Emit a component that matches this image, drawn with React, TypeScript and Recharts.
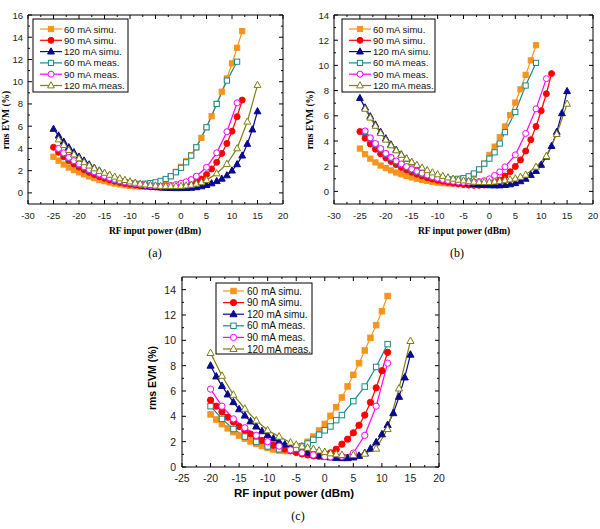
import React from 'react';
import { LineChart, Line, XAxis, YAxis } from 'recharts';

type P = [number, number];

// ---- panel (a) ----
const a60Sim: P[] = [[-25,3.25],[-24,2.9],[-23,2.55],[-22,2.28],[-21,2.05],[-20,1.85],[-19,1.66],[-18,1.48],[-17,1.32],[-16,1.18],[-15,1.05],[-14,0.94],[-13,0.84],[-12,0.76],[-11,0.69],[-10,0.63],[-9,0.59],[-8,0.57],[-7,0.57],[-6,0.6],[-5,0.68],[-4,0.85],[-3,1.15],[-2,1.5],[-1,1.9],[0,2.35],[1,2.85],[2,3.4],[3,4.1],[4,4.95],[5,5.9],[6,6.9],[7,8.0],[8,9.1],[9,10.3],[10,11.65],[11,13.05],[12,14.55]];
const a90Sim: P[] = [[-25,4.1],[-24,3.65],[-23,3.25],[-22,2.9],[-21,2.6],[-20,2.32],[-19,2.08],[-18,1.85],[-17,1.65],[-16,1.47],[-15,1.31],[-14,1.17],[-13,1.05],[-12,0.94],[-11,0.85],[-10,0.77],[-9,0.7],[-8,0.64],[-7,0.59],[-6,0.55],[-5,0.52],[-4,0.5],[-3,0.5],[-2,0.51],[-1,0.54],[0,0.59],[1,0.67],[2,0.8],[3,0.98],[4,1.25],[5,1.65],[6,2.15],[7,2.75],[8,3.55],[9,4.45],[10,5.55],[11,6.85],[12,8.35]];
const a120Sim: P[] = [[-25,5.75],[-24,5.15],[-23,4.6],[-22,4.1],[-21,3.65],[-20,3.25],[-19,2.9],[-18,2.55],[-17,2.25],[-16,2.0],[-15,1.75],[-14,1.55],[-13,1.35],[-12,1.2],[-11,1.05],[-10,0.92],[-9,0.82],[-8,0.72],[-7,0.64],[-6,0.57],[-5,0.52],[-4,0.48],[-3,0.45],[-2,0.43],[-1,0.42],[0,0.42],[1,0.43],[2,0.45],[3,0.5],[4,0.58],[5,0.7],[6,0.85],[7,1.05],[8,1.27],[9,1.57],[10,2.0],[11,2.57],[12,3.35],[13,4.4],[14,5.7],[15,7.33]];
const a60Meas: P[] = [[-24,3.95],[-23,3.55],[-22,3.15],[-21,2.85],[-20,2.55],[-19,2.3],[-18,2.05],[-17,1.85],[-16,1.65],[-15,1.48],[-14,1.32],[-13,1.18],[-12,1.06],[-11,0.96],[-10,0.88],[-9,0.82],[-8,0.8],[-7,0.82],[-6,0.88],[-5,0.95],[-4,1.08],[-3,1.25],[-2,1.5],[-1,1.85],[0,2.25],[1,2.75],[2,3.35],[3,4.1],[5,5.9],[7,8.0],[9,10.1],[11,11.8]];
const a90Meas: P[] = [[-24,4.0],[-23,3.6],[-22,3.2],[-21,2.9],[-20,2.6],[-19,2.35],[-18,2.1],[-17,1.9],[-16,1.7],[-15,1.52],[-14,1.36],[-13,1.22],[-12,1.1],[-11,0.99],[-10,0.9],[-9,0.82],[-8,0.75],[-7,0.69],[-6,0.65],[-5,0.62],[-4,0.6],[-3,0.62],[-2,0.67],[-1,0.75],[0,0.87],[1,1.0],[2,1.2],[3,1.5],[5,2.3],[7,3.6],[9,5.5],[11,8.1]];
const a120Meas: P[] = [[-24,4.8],[-23,4.3],[-22,3.85],[-21,3.45],[-20,3.1],[-19,2.75],[-18,2.45],[-17,2.2],[-16,1.97],[-15,1.8],[-14,1.62],[-13,1.45],[-12,1.3],[-11,1.15],[-10,1.02],[-9,0.9],[-8,0.82],[-7,0.75],[-6,0.7],[-5,0.65],[-4,0.62],[-3,0.6],[-2,0.6],[-1,0.6],[0,0.62],[1,0.66],[2,0.72],[3,0.82],[4,0.95],[5,1.15],[7,1.75],[9,2.6],[11,4.0],[13,6.4],[15,9.7]];

// ---- panel (b) ----
const b60Sim: P[] = [[-25,3.4],[-24,2.95],[-23,2.6],[-22,2.3],[-21,2.05],[-20,1.85],[-19,1.67],[-18,1.5],[-17,1.36],[-16,1.23],[-15,1.11],[-14,1.0],[-13,0.91],[-12,0.83],[-11,0.76],[-10,0.7],[-9,0.66],[-8,0.63],[-7,0.63],[-6,0.7],[-5,0.82],[-4,1.02],[-3,1.3],[-2,1.7],[-1,2.2],[0,2.9],[1,3.55],[2,4.3],[3,5.15],[4,6.05],[5,7.05],[6,8.1],[7,9.25],[8,10.4],[9,11.6]];
const b90Sim: P[] = [[-25,4.75],[-24,4.22],[-23,3.77],[-22,3.35],[-21,2.98],[-20,2.66],[-19,2.38],[-18,2.13],[-17,1.9],[-16,1.7],[-15,1.52],[-14,1.36],[-13,1.22],[-12,1.09],[-11,0.98],[-10,0.88],[-9,0.8],[-8,0.72],[-7,0.65],[-6,0.59],[-5,0.54],[-4,0.5],[-3,0.48],[-2,0.48],[-1,0.5],[0,0.56],[1,0.7],[2,0.9],[3,1.22],[4,1.56],[5,1.98],[6,2.5],[7,3.2],[8,4.1],[9,5.15],[10,6.4],[11,7.75],[12,9.35]];
const b120Sim: P[] = [[-25,7.4],[-24,6.65],[-23,5.95],[-22,5.3],[-21,4.72],[-20,4.2],[-19,3.72],[-18,3.3],[-17,2.93],[-16,2.6],[-15,2.3],[-14,2.03],[-13,1.8],[-12,1.6],[-11,1.42],[-10,1.27],[-9,1.13],[-8,1.0],[-7,0.9],[-6,0.8],[-5,0.72],[-4,0.64],[-3,0.58],[-2,0.53],[-1,0.5],[0,0.48],[1,0.47],[2,0.47],[3,0.5],[4,0.55],[5,0.65],[6,0.8],[7,1.0],[8,1.3],[9,1.62],[10,2.1],[11,2.75],[12,3.6],[13,4.72],[14,6.2],[15,7.95]];
const b60Meas: P[] = [[-24,4.72],[-23,4.2],[-22,3.75],[-21,3.35],[-20,2.98],[-19,2.66],[-18,2.38],[-17,2.14],[-16,1.93],[-15,1.74],[-14,1.57],[-13,1.42],[-12,1.28],[-11,1.16],[-10,1.06],[-9,0.99],[-8,0.95],[-7,0.95],[-6,1.0],[-5,1.05],[-4,1.2],[-3,1.42],[-2,1.75],[-1,2.2],[0,2.6],[1,3.1],[2,3.8],[3,4.7],[5,6.3],[7,8.4],[9,10.2]];
const b90Meas: P[] = [[-24,4.8],[-23,4.25],[-22,3.8],[-21,3.4],[-20,3.02],[-19,2.7],[-18,2.42],[-17,2.18],[-16,1.97],[-15,1.78],[-14,1.6],[-13,1.45],[-12,1.3],[-11,1.17],[-10,1.05],[-9,0.95],[-8,0.87],[-7,0.8],[-6,0.75],[-5,0.72],[-4,0.72],[-3,0.74],[-2,0.78],[-1,0.85],[0,1.0],[1,1.27],[2,1.55],[3,1.95],[5,2.9],[7,4.6],[9,6.55],[11,8.95]];
const b120Meas: P[] = [[-24,6.55],[-23,5.85],[-22,5.2],[-21,4.62],[-20,4.1],[-19,3.65],[-18,3.25],[-17,2.9],[-16,2.6],[-15,2.33],[-14,2.1],[-13,1.88],[-12,1.68],[-11,1.5],[-10,1.35],[-9,1.22],[-8,1.1],[-7,1.0],[-6,0.92],[-5,0.86],[-4,0.8],[-3,0.76],[-2,0.74],[-1,0.73],[0,0.74],[1,0.77],[2,0.82],[3,0.88],[4,0.95],[5,1.02],[6,1.15],[7,1.32],[9,1.95],[11,2.8],[13,4.55],[15,6.95]];

// ---- panel (c) ----
const c60Sim: P[] = [[-20,4.15],[-19,3.75],[-18,3.38],[-17,3.05],[-16,2.75],[-15,2.48],[-14,2.24],[-13,2.02],[-12,1.83],[-11,1.66],[-10,1.5],[-9,1.38],[-8,1.3],[-7,1.26],[-6,1.27],[-5,1.4],[-4,1.65],[-3,2.0],[-2,2.4],[-1,2.88],[0,3.4],[1,4.04],[2,4.72],[3,5.49],[4,6.36],[5,7.28],[6,8.2],[7,9.2],[8,10.2],[9,11.2],[10,12.3],[11,13.5]];
const c90Sim: P[] = [[-20,5.28],[-19,4.8],[-18,4.35],[-17,3.93],[-16,3.55],[-15,3.2],[-14,2.88],[-13,2.6],[-12,2.34],[-11,2.1],[-10,1.9],[-9,1.72],[-8,1.56],[-7,1.42],[-6,1.28],[-5,1.15],[-4,1.03],[-3,0.95],[-2,0.88],[-1,0.85],[0,0.9],[1,1.12],[2,1.4],[3,1.8],[4,2.2],[5,2.7],[6,3.3],[7,4.1],[8,5.1],[9,6.25],[10,7.6],[11,9.05]];
const c120Sim: P[] = [[-20,8.0],[-19,7.15],[-18,6.4],[-17,5.73],[-16,5.12],[-15,4.56],[-14,4.06],[-13,3.6],[-12,3.2],[-11,2.83],[-10,2.52],[-9,2.25],[-8,2.0],[-7,1.78],[-6,1.58],[-5,1.42],[-4,1.27],[-3,1.13],[-2,1.0],[-1,0.9],[0,0.82],[1,0.76],[2,0.72],[3,0.7],[4,0.7],[5,0.76],[6,0.88],[7,1.1],[8,1.45],[9,1.95],[10,2.58],[11,3.32],[12,4.25],[13,5.54],[14,7.07],[15,8.87]];
const c60Meas: P[] = [[-20,4.8],[-18,3.8],[-16,3.0],[-14,2.4],[-12,1.98],[-10,1.62],[-8,1.4],[-6,1.32],[-5,1.45],[-4,1.65],[-3,1.85],[-2,2.15],[-1,2.55],[0,2.9],[1,3.2],[2,3.7],[3,4.1],[5,5.2],[7,6.35],[9,7.9],[11,9.7]];
const c90Meas: P[] = [[-20,6.15],[-18,4.8],[-16,3.8],[-14,3.1],[-12,2.5],[-10,2.0],[-8,1.65],[-6,1.35],[-4,1.12],[-2,0.95],[0,0.82],[1,0.8],[3,0.85],[5,1.1],[7,2.5],[9,4.8],[11,8.2]];
const c120Meas: P[] = [[-20,9.0],[-18,7.2],[-16,5.7],[-14,4.6],[-12,3.67],[-10,2.9],[-8,2.4],[-6,1.93],[-5,1.75],[-4,1.62],[-3,1.52],[-2,1.42],[-1,1.3],[0,1.18],[1,1.08],[2,1.0],[3,0.95],[5,0.95],[7,1.05],[9,1.45],[11,3.0],[13,6.2],[15,9.95]];

// tick values
const abXTicks = [-30, -27.5, -25, -22.5, -20, -17.5, -15, -12.5, -10, -7.5, -5, -2.5, 0, 2.5, 5, 7.5, 10, 12.5, 15, 17.5, 20];
const aYTicks = [0, 1, 2, 3, 4, 5, 6, 7, 8, 9, 10, 11, 12, 13, 14, 15, 16];
const bYTicks = [0, 1, 2, 3, 4, 5, 6, 7, 8, 9, 10, 11, 12, 13, 14];
const cXTicks = [-25, -22.5, -20, -17.5, -15, -12.5, -10, -7.5, -5, -2.5, 0, 2.5, 5, 7.5, 10, 12.5, 15, 17.5, 20];
const cYTicks = [0, 1, 2, 3, 4, 5, 6, 7, 8, 9, 10, 11, 12, 13, 14];

const STYLES = [
  { name: '60 mA simu.', color: '#F7941D', shape: 'square', filled: true },
  { name: '90 mA simu.', color: '#FF0000', shape: 'circle', filled: true },
  { name: '120 mA simu.', color: '#0A0A8C', shape: 'triangle', filled: true },
  { name: '60 mA meas.', color: '#17898A', shape: 'square', filled: false },
  { name: '90 mA meas.', color: '#FF00FF', shape: 'circle', filled: false },
  { name: '120 mA meas.', color: '#7F7F10', shape: 'triangle', filled: false },
];

const SANS = '"Liberation Sans", Arial, sans-serif';
const SERIF = '"Liberation Serif", "Times New Roman", serif';
const TM = 3;

const toPts = (a: P[]) => a.map(([x, y]) => ({ x, y }));

function Marker({ cx, cy, shape, color, filled, k = 1 }: any) {
  const fill = filled ? color : '#fff';
  if (shape === 'square') {
    return <rect x={cx - 2.6 * k} y={cy - 2.6 * k} width={5.2 * k} height={5.2 * k} fill={fill} stroke={color} strokeWidth={1} />;
  }
  if (shape === 'circle') {
    return <circle cx={cx} cy={cy} r={3 * k} fill={fill} stroke={color} strokeWidth={1} />;
  }
  const pts = `${cx},${cy - 3.8 * k} ${cx - 3.4 * k},${cy + 2.4 * k} ${cx + 3.4 * k},${cy + 2.4 * k}`;
  return <polygon points={pts} fill={fill} stroke={color} strokeWidth={1} />;
}

const dotFor = (st: any, k: number) => (props: any) => {
  const { cx, cy, index } = props;
  if (cx == null || cy == null) return <g key={index} />;
  return (
    <g key={index}>
      <Marker cx={cx} cy={cy} shape={st.shape} color={st.color} filled={st.filled} k={k} />
    </g>
  );
};

// inward major/minor ticks, labels only on majors
const mkTick = (side: string, step: number, fs: number, gap: number, labels: boolean) => (props: any) => {
  const { x, y, payload } = props;
  const v = payload.value;
  const major = Math.abs(v / step - Math.round(v / step)) < 1e-6;
  const len = major ? 4 : 2;
  let line: any = null;
  let text: any = null;
  if (side === 'bottom') {
    const y0 = y - TM;
    line = <line x1={x} x2={x} y1={y0} y2={y0 - len} stroke="#000" />;
    if (labels && major) text = <text x={x} y={y0 + gap} textAnchor="middle" dominantBaseline="central" fontSize={fs} fontFamily={SANS} fill="#222">{v}</text>;
  } else if (side === 'left') {
    const x0 = x + TM;
    line = <line x1={x0} x2={x0 + len} y1={y} y2={y} stroke="#000" />;
    if (labels && major) text = <text x={x0 - gap} y={y} textAnchor="end" dominantBaseline="central" fontSize={fs} fontFamily={SANS} fill="#222">{v}</text>;
  } else if (side === 'top') {
    const y0 = y + TM;
    line = <line x1={x} x2={x} y1={y0} y2={y0 + len} stroke="#000" />;
  } else {
    const x0 = x - TM;
    line = <line x1={x0} x2={x0 - len} y1={y} y2={y} stroke="#000" />;
  }
  return <g>{line}{text}</g>;
};

function Panel({ cfg, series }: any) {
  const { left, top, width, height, margin, leftW, rightW, xDomain, yDomain, xTicks, yTicks, fs, gapX, gapY, k } = cfg;
  return (
    <div style={{ position: 'absolute', left, top }}>
      <LineChart width={width} height={height} margin={margin}>
        <XAxis xAxisId="b" dataKey="x" type="number" domain={xDomain} ticks={xTicks} interval={0} allowDataOverflow
          height={20} tickSize={0} tickMargin={TM} tickLine={false} axisLine={{ stroke: '#000' }}
          tick={mkTick('bottom', 5, fs, gapX, true)} />
        <XAxis xAxisId="t" orientation="top" dataKey="x" type="number" domain={xDomain} ticks={xTicks} interval={0} allowDataOverflow
          height={5} tickSize={0} tickMargin={TM} tickLine={false} axisLine={{ stroke: '#000' }}
          tick={mkTick('top', 5, fs, 0, false)} />
        <YAxis yAxisId="l" type="number" domain={yDomain} ticks={yTicks} interval={0} allowDataOverflow
          width={leftW} tickSize={0} tickMargin={TM} tickLine={false} axisLine={{ stroke: '#000' }}
          tick={mkTick('left', 2, fs, gapY, true)} />
        <YAxis yAxisId="r" orientation="right" type="number" domain={yDomain} ticks={yTicks} interval={0} allowDataOverflow
          width={rightW} tickSize={0} tickMargin={TM} tickLine={false} axisLine={{ stroke: '#000' }}
          tick={mkTick('right', 2, fs, 0, false)} />
        {series.map((s: P[], i: number) => (
          <Line key={i} xAxisId="b" yAxisId="l" data={toPts(s)} dataKey="y" type="linear"
            stroke={STYLES[i].color} strokeWidth={1.2} dot={dotFor(STYLES[i], k)} activeDot={false}
            isAnimationActive={false} />
        ))}
      </LineChart>
    </div>
  );
}

function LegendBox({ x, y, w, h, row0, step, l1, l2, tx, fs, k }: any) {
  return (
    <g>
      <rect x={x} y={y} width={w} height={h} fill="#fff" stroke="#000" strokeWidth={1} />
      {STYLES.map((st, i) => {
        const ry = row0 + i * step;
        return (
          <g key={st.name}>
            <line x1={l1} x2={l2} y1={ry} y2={ry} stroke={st.color} strokeWidth={1.2} />
            <Marker cx={(l1 + l2) / 2} cy={ry} shape={st.shape} color={st.color} filled={st.filled} k={k} />
            <text x={tx} y={ry} dominantBaseline="central" fontSize={fs} fontFamily={SANS} fill="#111">{st.name}</text>
          </g>
        );
      })}
    </g>
  );
}

const cfgA = { left: 0, top: 0, width: 300, height: 260, margin: { top: 10, right: 12, bottom: 36, left: 8 }, leftW: 20, rightW: 5,
  xDomain: [-30, 20], yDomain: [-1, 16], xTicks: abXTicks, yTicks: aYTicks, fs: 9.5, gapX: 11, gapY: 5, k: 1 };
const cfgB = { left: 300, top: 0, width: 300, height: 260, margin: { top: 10, right: 2, bottom: 36, left: 12 }, leftW: 22, rightW: 5,
  xDomain: [-30, 20], yDomain: [-1, 14], xTicks: abXTicks, yTicks: bYTicks, fs: 9.5, gapX: 11, gapY: 5, k: 1 };
const cfgC = { left: 130, top: 265, width: 330, height: 264, margin: { top: 7, right: 16, bottom: 42, left: 30 }, leftW: 22, rightW: 5,
  xDomain: [-25, 20], yDomain: [0, 15], xTicks: cXTicks, yTicks: cYTicks, fs: 10.5, gapX: 11, gapY: 6, k: 1.05 };

export default function App() {
  return (
    <div style={{ position: 'absolute', left: 0, top: 0, width: 600, height: 529, background: '#fff', overflow: 'hidden' }}>
      <Panel cfg={cfgA} series={[a60Sim, a90Sim, a120Sim, a60Meas, a90Meas, a120Meas]} />
      <Panel cfg={cfgB} series={[b60Sim, b90Sim, b120Sim, b60Meas, b90Meas, b120Meas]} />
      <Panel cfg={cfgC} series={[c60Sim, c90Sim, c120Sim, c60Meas, c90Meas, c120Meas]} />
      <svg width={600} height={529} style={{ position: 'absolute', left: 0, top: 0, pointerEvents: 'none' }}>
        <LegendBox x={33} y={19} w={95} h={73} row0={29} step={11.3} l1={40} l2={62} tx={64} fs={9.5} k={1} />
        <LegendBox x={342} y={19} w={93} h={73} row0={29} step={11.3} l1={349} l2={371} tx={373} fs={9.5} k={1} />
        <LegendBox x={216} y={283} w={96} h={71} row0={291} step={11.6} l1={223} l2={244} tx={247} fs={10} k={1.05} />

        <text x={9} y={120} transform="rotate(-90 9 120)" textAnchor="middle" fontSize={9.5} fontWeight="bold" fontFamily={SERIF}>rms EVM (%)</text>
        <text x={313} y={120} transform="rotate(-90 313 120)" textAnchor="middle" fontSize={9.5} fontWeight="bold" fontFamily={SERIF}>rms EVM (%)</text>
        <text x={156} y={378} transform="rotate(-90 156 378)" textAnchor="middle" fontSize={10.5} fontWeight="bold" fontFamily={SANS}>rms EVM (%)</text>

        <text x={155} y={231} textAnchor="middle" dominantBaseline="central" fontSize={9.5} fontWeight="bold" fontFamily={SERIF}>RF input power (dBm)</text>
        <text x={464} y={231} textAnchor="middle" dominantBaseline="central" fontSize={9.5} fontWeight="bold" fontFamily={SERIF}>RF input power (dBm)</text>
        <text x={294} y={493} textAnchor="middle" dominantBaseline="central" fontSize={11.5} fontWeight="bold" fontFamily={SANS}>RF input power (dBm)</text>

        <text x={155} y={253} textAnchor="middle" dominantBaseline="central" fontSize={12} fontFamily={SERIF}>(a)</text>
        <text x={457} y={253} textAnchor="middle" dominantBaseline="central" fontSize={12} fontFamily={SERIF}>(b)</text>
        <text x={298} y={516} textAnchor="middle" dominantBaseline="central" fontSize={12} fontFamily={SERIF}>(c)</text>
      </svg>
    </div>
  );
}
